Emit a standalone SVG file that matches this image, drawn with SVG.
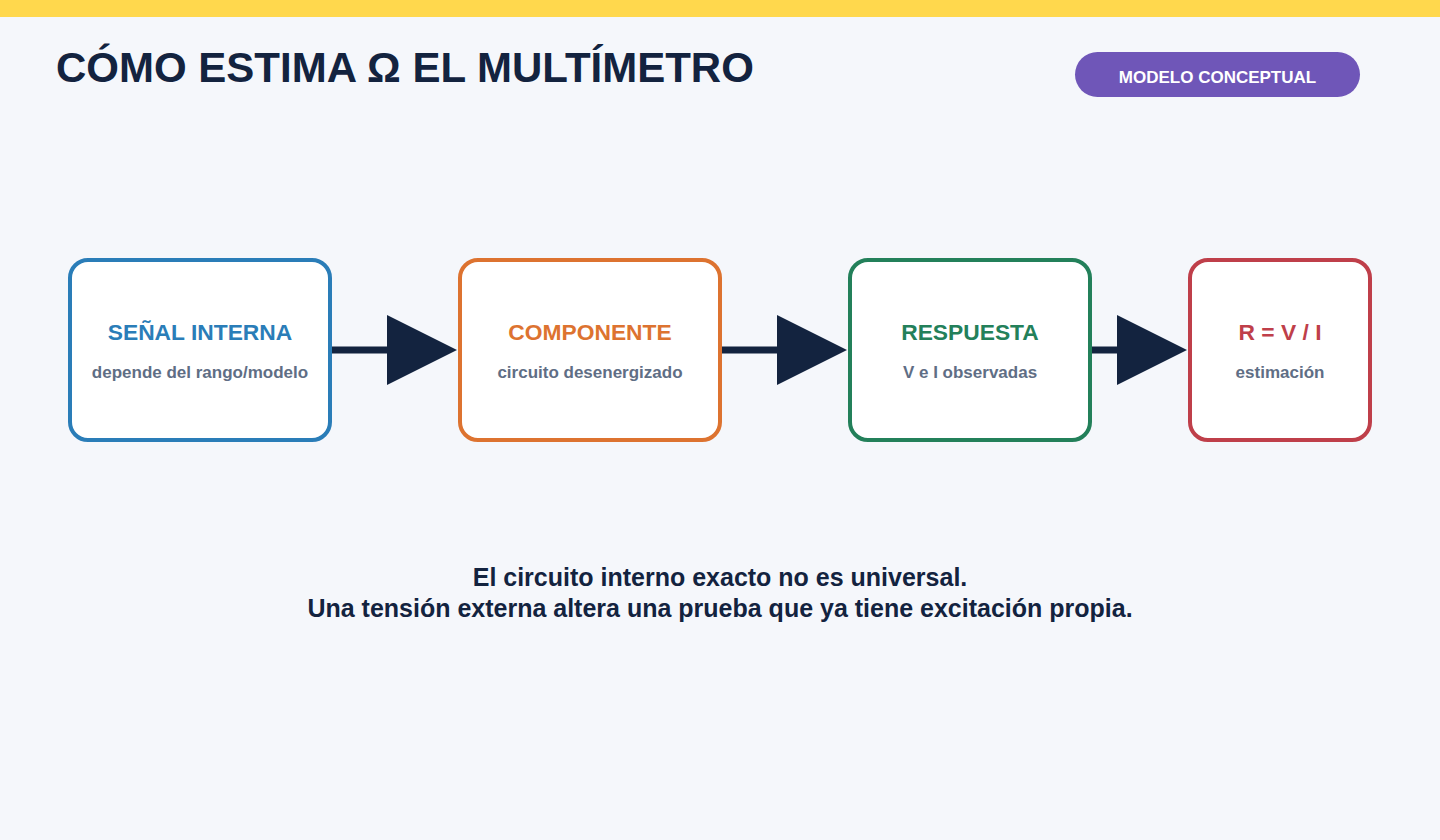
<svg xmlns="http://www.w3.org/2000/svg" width="1440" height="840" viewBox="0 0 1440 840">
<style>
text{font-family:"Liberation Sans",Arial,sans-serif;font-weight:bold}
.box{fill:#FFFFFF;stroke-width:4}
.t{font-size:22.8px;text-anchor:middle}
.s{font-size:17px;text-anchor:middle;fill:#5F6E85}
.conn{stroke:#13233F;stroke-width:7;fill:none}
.head{fill:#13233F}
.note{font-size:25px;fill:#13233F;text-anchor:middle}
</style>
<rect x="0" y="0" width="1440" height="840" fill="#F5F7FB"/>
<rect x="0" y="0" width="1440" height="17" fill="#FFD84D"/>
<text x="56" y="82" font-size="42" fill="#13233F">CÓMO ESTIMA Ω EL MULTÍMETRO</text>
<g id="badge">
<rect x="1075" y="52" width="285" height="45" rx="22.5" fill="#6F56B8"/>
<text x="1217.5" y="83" font-size="17" fill="#FFFFFF" text-anchor="middle">MODELO CONCEPTUAL</text>
</g>
<g id="connectors">
<line class="conn" x1="332" y1="350" x2="390" y2="350"/>
<polygon class="head" points="387,315 457,350 387,385"/>
<line class="conn" x1="722" y1="350" x2="780" y2="350"/>
<polygon class="head" points="777,315 847,350 777,385"/>
<line class="conn" x1="1092" y1="350" x2="1120" y2="350"/>
<polygon class="head" points="1117,315 1187,350 1117,385"/>
</g>
<g id="node-senal">
<rect class="box" x="70" y="260" width="260" height="180" rx="18" stroke="#2A7DB8"/>
<text class="t" x="200" y="340" fill="#2A7DB8">SEÑAL INTERNA</text>
<text class="s" x="200" y="378">depende del rango/modelo</text>
</g>
<g id="node-componente">
<rect class="box" x="460" y="260" width="260" height="180" rx="18" stroke="#DD7330"/>
<text class="t" x="590" y="340" fill="#DD7330">COMPONENTE</text>
<text class="s" x="590" y="378">circuito desenergizado</text>
</g>
<g id="node-respuesta">
<rect class="box" x="850" y="260" width="240" height="180" rx="18" stroke="#23805A"/>
<text class="t" x="970" y="340" fill="#23805A">RESPUESTA</text>
<text class="s" x="970" y="378">V e I observadas</text>
</g>
<g id="node-estimacion">
<rect class="box" x="1190" y="260" width="180" height="180" rx="18" stroke="#BF3F4A"/>
<text class="t" x="1280" y="340" fill="#BF3F4A">R = V / I</text>
<text class="s" x="1280" y="378">estimación</text>
</g>
<g id="note">
<text class="note" x="720" y="586">El circuito interno exacto no es universal.</text>
<text class="note" x="720" y="617">Una tensión externa altera una prueba que ya tiene excitación propia.</text>
</g>
</svg>
